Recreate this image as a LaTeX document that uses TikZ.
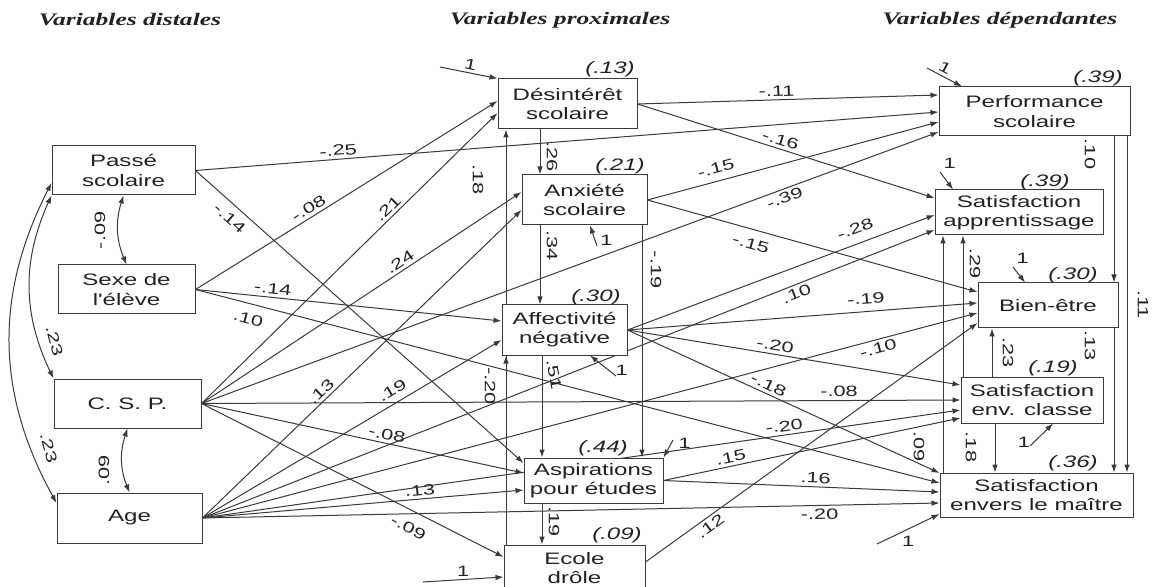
\documentclass[tikz,border=0pt]{standalone}
\usepackage{fontspec}
\newfontfamily\boxfont[FakeStretch=1.45]{Liberation Sans}
\newfontfamily\titfont[FakeStretch=1.45]{Liberation Serif}
\usetikzlibrary{arrows.meta}
\pgfdeclarelayer{back}
\pgfdeclarelayer{bg}
\pgfsetlayers{back,bg,main}
\definecolor{linec}{HTML}{3A3A3A}
\definecolor{textc}{HTML}{222222}
\tikzset{
  box/.style={draw=linec, fill=white, line width=0.5pt, inner sep=0pt, align=center,
    font=\boxfont\fontsize{8.3}{9.6}\selectfont, text=textc},
  link/.style={draw=linec, line width=0.5pt, -{Latex[length=4pt,width=2.8pt]}},
  cov/.style={draw=linec, line width=0.5pt, {Latex[length=4pt,width=2.8pt]}-{Latex[length=4pt,width=2.8pt]}},
  lab/.style={font=\boxfont\fontsize{7.5}{8}\selectfont, text=textc, inner sep=1.5pt},
  vlab/.style={lab, inner sep=0pt},
  rsq/.style={font=\boxfont\itshape\fontsize{8.3}{9}\selectfont, text=textc, inner sep=0pt},
  ttl/.style={font=\titfont\bfseries\itshape\fontsize{8.8}{10}\selectfont, text=textc, inner sep=0pt},
}
\begin{document}
\begin{tikzpicture}[x=0.5pt,y=-0.5pt]
\useasboundingbox (0,0) rectangle (1155,587);
\begin{pgfonlayer}{back}
\fill[white] (0,0) rectangle (1155,587);
\end{pgfonlayer}
\clip (0,0) rectangle (1155,587);

% titles
\node[ttl] (t1) at (130,20) {Variables distales};
\node[ttl] (t2) at (560,20) {Variables proximales};
\node[ttl] (t3) at (1000,20) {Variables dépendantes};

% distal variables
\node[box, minimum width=71.5pt, minimum height=24.5pt] (P) at (123.5,170.5) {Passé\\scolaire};
\node[box, minimum width=68.5pt, minimum height=24.5pt] (S) at (126.5,289.5) {Sexe de\\l'élève};
\node[box, minimum width=73.5pt, minimum height=24.5pt] (CSP) at (127.5,403.5) {C. S. P.};
\node[box, minimum width=72.5pt, minimum height=25pt] (Age) at (129.5,518) {Age};

% proximal variables
\node[box, minimum width=69.5pt, minimum height=25pt] (Des) at (567.5,104) {Désintérêt\\scolaire};
\node[box, minimum width=62.5pt, minimum height=25pt] (Anx) at (584.5,200) {Anxiété\\scolaire};
\node[box, minimum width=62.5pt, minimum height=25pt] (Aff) at (564.5,330) {Affectivité\\négative};
\node[box, minimum width=69.5pt, minimum height=22.5pt] (Asp) at (593.5,480.5) {Aspirations\\pour études};
\node[box, minimum width=70.5pt, minimum height=23pt] (Eco) at (574.5,568) {Ecole\\drôle};

% dependent variables
\node[box, minimum width=95.5pt, minimum height=24.5pt] (Perf) at (1034.5,111.5) {Performance\\scolaire};
\node[box, minimum width=84pt, minimum height=22.5pt] (SApp) at (1019,212.5) {Satisfaction\\apprentissage};
\node[box, minimum width=70pt, minimum height=22.5pt] (BE) at (1048,305.5) {Bien-être};
\node[box, minimum width=71pt, minimum height=23pt] (SEC) at (1032,400) {Satisfaction\\env. classe};
\node[box, minimum width=96.5pt, minimum height=22pt] (SEM) at (1036.5,495) {Satisfaction\\envers le maître};

% explained variance
\node[rsq] (r1) at (610,69) {(.13)};
\node[rsq] (r2) at (620,166) {(.21)};
\node[rsq] (r3) at (596,297) {(.30)};
\node[rsq] (r4) at (603,448) {(.44)};
\node[rsq] (r5) at (617,535) {(.09)};
\node[rsq] (r6) at (1098,78) {(.39)};
\node[rsq] (r7) at (1045,182) {(.39)};
\node[rsq] (r8) at (1073,275) {(.30)};
\node[rsq] (r9) at (1053,368) {(.19)};
\node[rsq] (r10) at (1073,463) {(.36)};

% disturbance origins
\coordinate (eDes) at (440,67);
\coordinate (eAnx) at (597,246);
\coordinate (eAff) at (616,376);
\coordinate (eAsp) at (673,440);
\coordinate (eEco) at (423,582);
\coordinate (ePerf) at (927,68);
\coordinate (eSApp) at (940,172);
\coordinate (eBE) at (1013,267);
\coordinate (eSEC) at (1030,446);
\coordinate (eSEM) at (877,544);

\begin{pgfonlayer}{bg}
% distal -> proximal
\draw[link] (P.east) -- (Asp.west |- 0,463) node[lab,pos=.13,sloped,below=2pt]{-.14};
\draw[link] (S.east) -- (Des.west |- 0,101) node[lab,pos=.39,sloped,above]{-.08};
\draw[link] (S.east) -- (Aff.west |- 0,321) node[lab,pos=.25,sloped,above]{-.14};
\draw[link] (CSP.east) -- (Des.west |- 0,113) node[lab,pos=.65,sloped,above]{.21};
\draw[link] (CSP.east) -- (Anx.west |- 0,192) node[lab,pos=.635,sloped,above]{.24};
\draw[link] (CSP.east) -- (Asp.west |- 0,473) node[lab,pos=.57,sloped,above]{-.08};
\draw[link] (CSP.east) -- (Eco.west |- 0,557) node[lab,pos=.71,sloped,below=4pt]{-.09};
\draw[link] (Age.east) -- (Anx.west |- 0,210) node[lab,pos=.39,sloped,above]{.13};
\draw[link] (Age.east) -- (Aff.west |- 0,340) node[lab,pos=.656,sloped,above=2pt]{.19};
\draw[link] (Age.east) -- (Asp.west |- 0,490) node[lab,pos=.68,sloped,above]{.13};

% distal -> dependent
\draw[link] (P.east) -- (Perf.west |- 0,112) node[lab,pos=.193,sloped,above]{-.25};
\draw[link] (S.east) -- (SEM.west |- 0,483) node[lab,pos=.076,sloped,below=3pt]{.10};
\draw[link] (CSP.east) -- (Perf.west |- 0,132) node[lab,pos=.787,sloped,below]{-.39};
\draw[link] (CSP.east) -- (SEC.west |- 0,400) node[lab,pos=.84,sloped,above]{-.08};
\draw[link] (Age.east) -- (SApp.west |- 0,230) node[lab,pos=.807,sloped,below=0pt]{.10};
\draw[link] (Age.east) -- (BE.west |- 0,313) node[lab,pos=.869,sloped,below]{-.10};
\draw[link] (Age.east) -- (SEM.west |- 0,503) node[lab,pos=.837,sloped,below]{-.20};
\draw[link] (Age.east) -- (SEC.west |- 0,410) node[lab,pos=.769,sloped,above=0pt]{-.20};

% proximal -> proximal
\draw[link] (540,0 |- Des.south) -- (540,0 |- Anx.north) node[vlab,pos=.6,xshift=6pt,rotate=-90]{.26};
\draw[link] (540,0 |- Anx.south) -- (540,0 |- Aff.north) node[vlab,pos=.25,xshift=6pt,rotate=-90]{.34};
\draw[link] (542,0 |- Aff.south) -- (542,0 |- Asp.north) node[vlab,pos=.19,xshift=6pt,rotate=-80]{.51};
\draw[link] (642,0 |- Anx.south) -- (642,0 |- Asp.north) node[vlab,pos=.19,xshift=7pt,rotate=-90]{-.19};
\draw[link] (542,0 |- Asp.south) -- (542,0 |- Eco.north) node[vlab,pos=.45,xshift=6pt,rotate=-90]{.19};
\draw[link] (506,0 |- Eco.north) -- (506,0 |- Des.south) node[vlab,pos=.88,xshift=-14pt,rotate=-90]{.18};
\draw[link] (506,0 |- Eco.north) -- (506,0 |- Aff.south) node[vlab,pos=.84,xshift=-8pt,rotate=-90]{-.20};

% proximal -> dependent
\draw[link] (Des.east) -- (Perf.west |- 0,95) node[lab,pos=.463,sloped,above]{-.11};
\draw[link] (Des.east) -- (SApp.west |- 0,198) node[lab,pos=.473,sloped,above]{-.16};
\draw[link] (Anx.east) -- (Perf.west |- 0,122) node[lab,pos=.246,sloped,above=2pt]{-.15};
\draw[link] (Anx.east) -- (BE.west |- 0,292) node[lab,pos=.325,sloped,below=3pt]{-.15};
\draw[link] (Aff.east) -- (SApp.west |- 0,215) node[lab,pos=.758,sloped,above=3pt]{-.28};
\draw[link] (Aff.east) -- (BE.west |- 0,303) node[lab,pos=.684,sloped,above=2pt]{-.19};
\draw[link] (Aff.east) -- (SEC.west |- 0,385) node[lab,pos=.439,sloped,above]{-.20};
\draw[link] (Aff.east) -- (SEM.west |- 0,473) node[lab,pos=.44,sloped,above]{-.18};
\draw[link] (Asp.east) -- (SEC.west |- 0,418) node[lab,pos=.233,sloped,above]{.15};
\draw[link] (Asp.east) -- (SEM.west |- 0,492) node[lab,pos=.55,sloped,above]{.16};
\draw[link] (Eco.east |- 0,562) -- (BE.west |- 0,323) node[lab,pos=.18,sloped,below]{.12};

% dependent -> dependent
\draw[link] (1114,0 |- Perf.south) -- (1114,0 |- BE.north) node[vlab,pos=.12,xshift=-12pt,rotate=-90]{.10};
\draw[link] (1127,0 |- Perf.south) -- (1127,0 |- SEM.north) node[vlab,pos=.5,xshift=8pt,rotate=-90]{.11};
\draw[link] (1114,0 |- BE.south) -- (1114,0 |- SEM.north) node[vlab,pos=.12,xshift=-12pt,rotate=-90]{.13};
\draw[link] (992,0 |- SEC.north) -- (992,0 |- BE.south) node[vlab,pos=.5,xshift=8pt,rotate=-90]{.23};
\draw[link] (995,0 |- SEC.south) -- (995,0 |- SEM.north) node[vlab,pos=.48,xshift=-12pt,rotate=-90]{.18};
\draw[link] (963,0 |- SEC.north) -- (963,0 |- SApp.south) node[vlab,pos=.8,xshift=6pt,rotate=-90]{.29};
\draw[link] (943,0 |- SEM.north) -- (943,0 |- SApp.south) node[vlab,pos=.11,xshift=-12pt,rotate=-90]{.09};

% covariances
\draw[cov] (P.south) to[bend right=20] node[lab,midway,xshift=-9pt,rotate=90]{-.09} (S.north);
\draw[cov] (CSP.south) to[bend right=20] node[lab,midway,xshift=-9pt,yshift=-5pt,rotate=90]{.09} (Age.north);
\draw[cov] (P.south west) to[bend right=25] node[lab,pos=.8,xshift=8pt,rotate=-75]{.23} (CSP.north west);
\draw[cov] (P.west |- 0,183) to[bend right=28] node[lab,pos=.83,xshift=9pt,rotate=-75]{.23} (Age.west |- 0,503);

% disturbances
\draw[link] (eDes) -- (Des.north west) node[lab,midway,sloped,above]{1};
\draw[link] (eAnx) -- (590,0 |- Anx.south) node[lab,pos=.3,right=1pt]{1};
\draw[link] (eAff) -- (590,0 |- Aff.south) node[lab,pos=.3,right=2pt]{1};
\draw[link] (eAsp) -- (Asp.north east) node[lab,pos=.2,right=2pt]{1};
\draw[link] (eEco) -- (Eco.west |- 0,577) node[lab,midway,above]{1};
\draw[link] (ePerf) -- (962,0 |- Perf.north) node[lab,pos=.4,sloped,above]{1};
\draw[link] (eSApp) -- (953,0 |- SApp.north) node[lab,pos=0,above right=0pt]{1};
\draw[link] (eBE) -- (1025,0 |- BE.north) node[lab,pos=0,above right=0pt]{1};
\draw[link] (eSEC) -- (1053,0 |- SEC.south) node[lab,pos=.15,left]{1};
\draw[link] (eSEM) -- (SEM.west |- 0,514) node[lab,pos=.5,below=2pt]{1};
\end{pgfonlayer}
\end{tikzpicture}
\end{document}
